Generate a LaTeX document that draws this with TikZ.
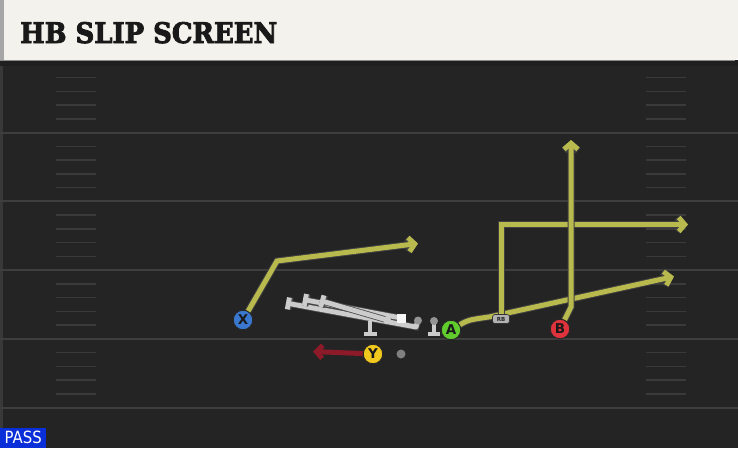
\documentclass[tikz,border=0pt]{standalone}
\usepackage{fontspec}
\setmainfont{DejaVu Sans}
\newfontfamily\titlefont[BoldFeatures={FakeBold=3}]{DejaVu Serif}
\usetikzlibrary{arrows.meta}
\pgfdeclarelayer{field}
\pgfdeclarelayer{routes}
\pgfsetlayers{field,routes,main}
\definecolor{headbg}{RGB}{244,242,236}
\definecolor{fieldbg}{RGB}{36,36,36}
\definecolor{yardln}{RGB}{62,62,62}
\definecolor{hashln}{RGB}{58,58,58}
\definecolor{routeY}{RGB}{184,186,78}
\definecolor{routeR}{RGB}{140,26,40}
\definecolor{xblue}{RGB}{58,120,208}
\definecolor{agreen}{RGB}{96,204,46}
\definecolor{bred}{RGB}{222,50,60}
\definecolor{yyellow}{RGB}{240,200,30}
\definecolor{olgray}{RGB}{204,204,204}
\definecolor{passblue}{RGB}{10,46,216}
\tikzset{
  player/.style={circle, minimum size=19.5pt, inner sep=0pt, draw=black!85, line width=0.9pt,
    font=\bfseries\fontsize{13.5}{13.5}\selectfont, text=black!90},
  route/.style={draw=routeY, line width=5pt, line join=miter,
    preaction={draw=black!75, line width=7pt},
    -{Straight Barb[length=6pt,width=14pt]}},
  rroute/.style={draw=routeR, line width=5pt,
    -{Straight Barb[length=6pt,width=13pt]}},
  yardline/.style={draw=yardln, line width=2pt},
  hashmark/.style={draw=hashln, line width=1.5pt},
  olbar/.style={draw=olgray, line width=4.8pt, line join=round,
    preaction={draw=black!70, line width=6.4pt},
    {Bar[width=12pt]}-},
  olstem/.style={draw=olgray, line width=4pt},
}
\begin{document}
\begin{tikzpicture}[x=1pt,y=-1pt]
\useasboundingbox (0,0) rectangle (738,448);
\begin{pgfonlayer}{field}
  % field
  \fill[fieldbg] (0,60) rectangle (738,448);
  \fill[black!88] (0,60) rectangle (738,66);
  \fill[black!78] (0,66) rectangle (3,448);
  \foreach \yy in {132.7,201.4,270.1,338.8,407.5}
    \draw[yardline] (0,\yy) -- (738,\yy);
  \foreach \s in {0,...,4}
    \foreach \k in {1,...,4}{
      \pgfmathsetmacro\hy{64+68.7*\s+13.74*\k}
      \draw[hashmark] (56,\hy) -- (96,\hy);
      \draw[hashmark] (646,\hy) -- (686,\hy);
    }
  % header
  \fill[headbg] (0,0) -- (738,0) -- (738,58) -- (735,60) -- (0,60) -- cycle;
  \fill[black!35] (0,0) rectangle (4,60);
  \draw[black!45, line width=1pt] (0,60) -- (735,60);
\end{pgfonlayer}
\node[anchor=base west, inner sep=0pt, text=black!90] (title) at (20,43)
  {\resizebox{257pt}{21pt}{\titlefont\bfseries HB SLIP SCREEN}};
\node[fill=passblue, anchor=south west, inner sep=0pt, minimum width=46pt, minimum height=20pt,
  text=white] (pass) at (0,448) {\resizebox{37pt}{12.5pt}{PASS}};

% players
\node[player, fill=xblue] (X) at (243,320) {X};
\node[player, fill=agreen] (A) at (451,330) {A};
\node[player, fill=bred] (B) at (560,329) {B};
\node[player, fill=yyellow] (Y) at (373,354) {Y};
\node[circle, fill=black!50, minimum size=9pt, inner sep=0pt] (qb) at (401,354) {};
\node[draw=black!80, fill=black!30, line width=0.6pt, rounded corners=2.5pt, minimum width=17pt,
  minimum height=9pt, inner sep=0pt, font=\bfseries\fontsize{5.5}{5.5}\selectfont, text=black!85]
  (RB) at (501,319) {RB};

% offensive line
\coordinate (c1) at (286,303);
\coordinate (c2) at (303,299.5);
\coordinate (c3) at (320,300.5);
\coordinate (b1) at (416,327);
\coordinate (t1) at (370,336);
\node[circle, fill=black!42, minimum size=8pt, inner sep=0pt] (ol4) at (418,320.5) {};
\node[circle, fill=black!42, minimum size=8pt, inner sep=0pt] (ol5) at (434,321) {};
\coordinate (t5) at (434,336);
\begin{pgfonlayer}{routes}
  \draw[olbar] (c1) -- (b1) -- (ol4.center);
  \draw[olbar] (c2) -- (401,318);
  \draw[olbar] (c3) -- (387,320);
  \draw[olstem, {Bar[width=13pt]}-] (t1) -- (370,321);
  \draw[olstem, {Bar[width=12pt]}-] (t5) -- (ol5.center);
\end{pgfonlayer}
\node[circle, fill=black!20, minimum size=8pt, inner sep=0pt] (ol2) at (387,320) {};
\node[fill=white!96!black, minimum size=9pt, inner sep=0pt] (ol3) at (401.5,318) {};

% routes
\coordinate (xc) at (277,261);
\coordinate (xt) at (418,243.5);
\coordinate (rbp) at (490,316.8);
\coordinate (at) at (674,276.5);
\coordinate (rc) at (501,224.5);
\coordinate (rt) at (688,224.5);
\coordinate (bc) at (571,307);
\coordinate (bt) at (571,140);
\coordinate (yt) at (313,351.5);
\begin{pgfonlayer}{routes}
  \draw[route] (X) -- (xc) -- (xt);
  \draw[route] (A) .. controls (468,320) .. (rbp) -- (at);
  \draw[route] (RB) -- (rc) -- (rt);
  \draw[route] (B) -- (bc) -- (bt);
  \draw[rroute] (Y) -- (yt);
\end{pgfonlayer}
\end{tikzpicture}
\end{document}
